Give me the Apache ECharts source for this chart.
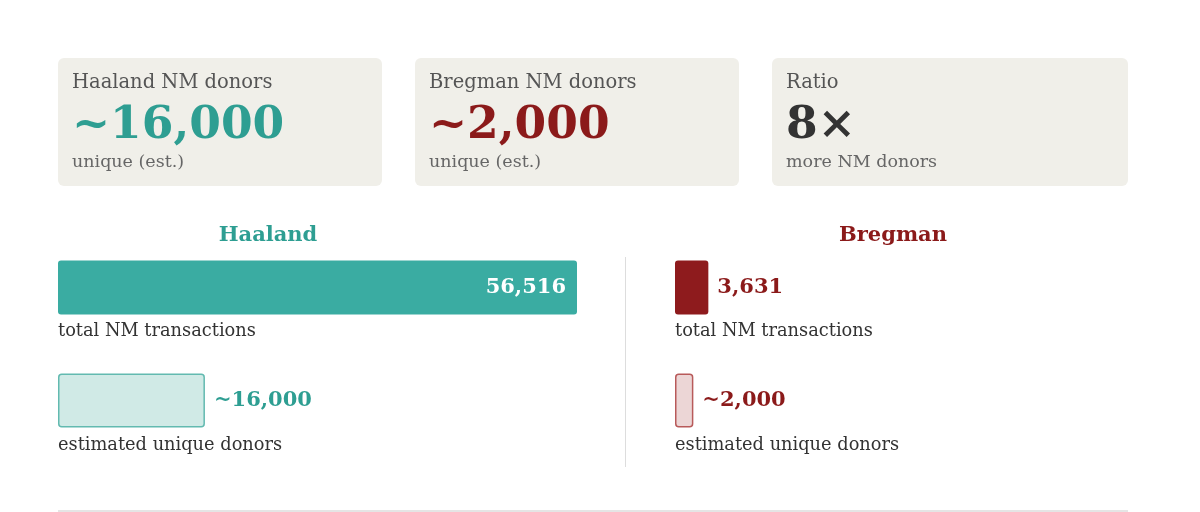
<!DOCTYPE html>
<html lang="en">
<head>
<meta charset="utf-8">
<title>NM donors</title>
<style>
  html, body { margin: 0; padding: 0; background: #fff; }
  #chart { width: 1200px; height: 512px; }
</style>
</head>
<body>
<div id="chart"></div>
<script src="https://cdn.jsdelivr.net/npm/echarts@6/dist/echarts.min.js"></script>
<script>
// data
var candidates = ['Haaland', 'Bregman'];
var rowNames = ['total NM transactions', 'estimated unique donors'];
var totalTx = [56516, 3631];
var uniqueDonors = [16000, 2000];
var ratioText = '8×';

var FONT = '"DejaVu Serif", serif';
var teal = '#2e9e92', tealBar = '#3aaca2', tealLight = '#d0eae6', tealBorder = '#62bab0';
var red = '#8b1a1a', redBar = '#8e1b1d', redLight = '#ecd6d6', redBorder = '#b85a5a';

function fmt(v) { return v.toLocaleString('en-US'); }

// cards
var cards = [
  { x: 58, w: 324, label: candidates[0] + ' NM donors', big: '~' + fmt(uniqueDonors[0]), sub: 'unique (est.)', color: teal },
  { x: 415, w: 324, label: candidates[1] + ' NM donors', big: '~' + fmt(uniqueDonors[1]), sub: 'unique (est.)', color: red },
  { x: 772, w: 356, label: 'Ratio', big: ratioText, sub: 'more NM donors', color: '#333' }
];
var graphic = [];
cards.forEach(function (c) {
  graphic.push({ type: 'rect', shape: { x: c.x, y: 58, width: c.w, height: 128, r: 6 }, style: { fill: '#f0efe9' } });
  graphic.push({ type: 'text', x: c.x + 14, y: 83, style: { text: c.label, font: '19.5px ' + FONT, fill: '#555', textVerticalAlign: 'middle' } });
  graphic.push({ type: 'text', x: c.x + 14, y: 126, style: { text: c.big, font: 'bold 45.5px ' + FONT, fill: c.color, textVerticalAlign: 'middle' } });
  graphic.push({ type: 'text', x: c.x + 14, y: 162, style: { text: c.sub, font: '17.5px ' + FONT, fill: '#666', textVerticalAlign: 'middle' } });
});

// panel titles
graphic.push({ type: 'text', x: 268, y: 236, style: { text: candidates[0], font: 'bold 21px ' + FONT, fill: teal, textAlign: 'center', textVerticalAlign: 'middle' } });
graphic.push({ type: 'text', x: 893, y: 236, style: { text: candidates[1], font: 'bold 21px ' + FONT, fill: red, textAlign: 'center', textVerticalAlign: 'middle' } });

// row captions
[58, 675].forEach(function (px) {
  graphic.push({ type: 'text', x: px, y: 331, style: { text: rowNames[0], font: '17.8px ' + FONT, fill: '#333', textVerticalAlign: 'middle' } });
  graphic.push({ type: 'text', x: px, y: 445, style: { text: rowNames[1], font: '17.8px ' + FONT, fill: '#333', textVerticalAlign: 'middle' } });
});

// divider and bottom rule
graphic.push({ type: 'line', shape: { x1: 625.5, y1: 257, x2: 625.5, y2: 467 }, style: { stroke: '#ddd', lineWidth: 1 } });
graphic.push({ type: 'line', shape: { x1: 58, y1: 511, x2: 1128, y2: 511 }, style: { stroke: '#ddd', lineWidth: 1.5 } });

var labelBase = { show: true, fontFamily: FONT, fontWeight: 'bold', fontSize: 21, distance: 9 };

function panelSeries(i, solid, light, border, textColor) {
  return {
    type: 'bar',
    xAxisIndex: i,
    yAxisIndex: i,
    barWidth: 54,
    silent: true,
    data: [
      {
        value: totalTx[i],
        itemStyle: { color: solid, borderRadius: 3 },
        label: Object.assign({}, labelBase, {
          position: i === 0 ? 'insideRight' : 'right',
          distance: i === 0 ? 11 : 9,
          color: i === 0 ? '#fff' : textColor,
          formatter: function (p) { return fmt(p.value); }
        })
      },
      {
        value: uniqueDonors[i],
        itemStyle: { color: light, borderColor: border, borderWidth: 1.5, borderRadius: 3 },
        label: Object.assign({}, labelBase, {
          position: 'right',
          color: textColor,
          formatter: function (p) { return '~' + fmt(p.value); }
        })
      }
    ]
  };
}

var chart = echarts.init(document.getElementById('chart'));
chart.setOption({
  animation: false,
  graphic: graphic,
  grid: [
    { left: 58, top: 231, width: 519, height: 226 },
    { left: 675, top: 231, width: 519, height: 226 }
  ],
  xAxis: [0, 1].map(function (i) {
    return { type: 'value', gridIndex: i, min: 0, max: totalTx[0], show: false };
  }),
  yAxis: [0, 1].map(function (i) {
    return { type: 'category', gridIndex: i, data: rowNames, inverse: true, show: false };
  }),
  series: [
    panelSeries(0, tealBar, tealLight, tealBorder, teal),
    panelSeries(1, redBar, redLight, redBorder, red)
  ]
});
</script>
</body>
</html>
